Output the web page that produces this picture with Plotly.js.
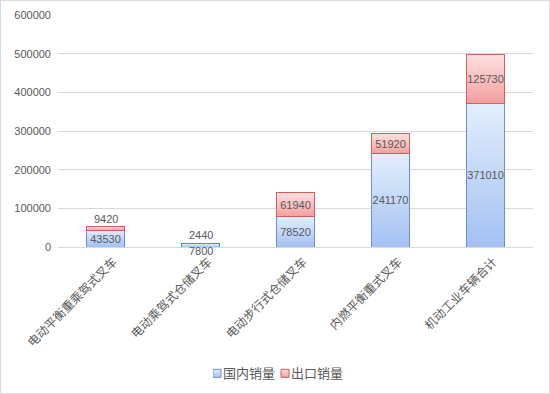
<!DOCTYPE html>
<html><head><meta charset="utf-8">
<script src="https://cdn.plot.ly/plotly-3.0.1.min.js"></script>
<style>
html,body{margin:0;padding:0;background:#fff;}
#c{width:548px;height:392px;border:1px solid #d9d9d9;}
</style></head>
<body><div id="c"></div>
<script>
var categories = ["电动平衡重乘驾式叉车","电动乘驾式仓储叉车","电动步行式仓储叉车","内燃平衡重式叉车","机动工业车辆合计"];
var domestic = [43530, 7800, 78520, 241170, 371010];
var exportv = [9420, 2440, 61940, 51920, 125730];
var seriesNames = ["国内销量","出口销量"];
var yTicks = [0,100000,200000,300000,400000,500000,600000];

var FONT = "Liberation Sans, 'Noto Sans CJK SC', sans-serif";
var gray = "#595959";
var minInside = 20000;

function insideText(arr){ return arr.map(function(v){ return v >= minInside ? String(v) : ""; }); }

var traces = [
  {type:"bar", name:seriesNames[0], x:categories, y:domestic, width:0.4,
   marker:{color:"#c5d8f6", line:{color:"#6a8fcf", width:1}},
   text:insideText(domestic), textposition:"inside", insidetextanchor:"middle", textangle:0,
   textfont:{family:FONT, size:11, color:gray}, constraintext:"none", hoverinfo:"none"},
  {type:"bar", name:seriesNames[1], x:categories, y:exportv, width:0.4,
   marker:{color:"#f8c4c4", line:{color:"#d0605d", width:1}},
   text:insideText(exportv), textposition:"inside", insidetextanchor:"middle", textangle:0,
   textfont:{family:FONT, size:11, color:gray}, constraintext:"none", hoverinfo:"none"}
];

var annotations = [];
categories.forEach(function(c,i){
  if (exportv[i] < minInside) {
    annotations.push({x:c, y:domestic[i]+exportv[i], text:String(exportv[i]), showarrow:false,
      yanchor:"bottom", yshift:0, font:{family:FONT,size:11,color:gray}});
  }
  if (domestic[i] < minInside) {
    annotations.push({x:c, y:0, text:String(domestic[i]), showarrow:false,
      yanchor:"top", yshift:4, font:{family:FONT,size:11,color:gray}});
  }
});

var layout = {
  width:548, height:392,
  margin:{l:57, r:16, t:14, b:146},
  barmode:"stack",
  paper_bgcolor:"#ffffff", plot_bgcolor:"#ffffff",
  font:{family:FONT, color:gray, size:11},
  showlegend:true,
  legend:{orientation:"h", traceorder:"normal", x:0.44, xanchor:"center",
          yref:"container", y:0.05, yanchor:"middle", bgcolor:"rgba(0,0,0,0)",
          font:{family:"'Noto Sans CJK SC', sans-serif", size:13, color:gray},
          itemwidth:30, tracegroupgap:0},
  xaxis:{type:"category", tickangle:-45, showgrid:false, zeroline:false, automargin:false,
         showline:true, linecolor:"#d9d9d9", ticks:"", ticklabelshift:8, ticklabelstandoff:2,
         tickfont:{family:"'Noto Sans CJK SC', sans-serif", size:12, color:gray}},
  yaxis:{range:[0,600000], tickvals:yTicks, tickformat:"d", showgrid:true, gridcolor:"#d9d9d9",
         zeroline:false, showline:false, ticks:"", ticklabelstandoff:6, automargin:false,
         tickfont:{family:FONT, size:11, color:gray}},
  annotations:annotations
};

Plotly.newPlot("c", traces, layout, {displayModeBar:false, staticPlot:true}).then(function(gd){
  try {
    var svg = gd.querySelector("svg.main-svg");
    var ns = "http://www.w3.org/2000/svg";
    var defs = svg.querySelector("defs") || svg.insertBefore(document.createElementNS(ns,"defs"), svg.firstChild);
    function grad(id, top, bot){
      var g = document.createElementNS(ns,"linearGradient");
      g.setAttribute("id",id); g.setAttribute("x1","0"); g.setAttribute("y1","0");
      g.setAttribute("x2","0"); g.setAttribute("y2","1");
      [[0,top],[1,bot]].forEach(function(s){
        var st = document.createElementNS(ns,"stop");
        st.setAttribute("offset", s[0]); st.setAttribute("stop-color", s[1]);
        g.appendChild(st);
      });
      defs.appendChild(g);
    }
    grad("gBlue","#e3eefc","#a3c1f3");
    grad("gRed","#fde0e0","#f29e9e");
    var tr = gd.querySelectorAll(".barlayer .trace");
    var ids = ["gBlue","gRed"];
    tr.forEach(function(t,k){
      t.querySelectorAll("path").forEach(function(p){ p.style.fill = "url(#"+ids[k]+")"; });
    });
  } catch(e) {}
  // compact the legend like the original
  try {
    var leg = gd.querySelector("g.legend");
    var m = /translate\(([-\d.]+),\s*([-\d.]+)\)/.exec(leg.getAttribute("transform"));
    var ly = m ? parseFloat(m[2]) : 0;
    leg.setAttribute("transform", "translate(212," + ly + ")");
    var bg = leg.querySelector("rect.bg"); if (bg) bg.style.display = "none";
    var entries = leg.querySelectorAll("g.traces");
    var cx = 0;
    entries.forEach(function(e, k){
      var mm = /translate\(([-\d.]+),\s*([-\d.]+)\)/.exec(e.getAttribute("transform"));
      var ey = mm ? parseFloat(mm[2]) : 0;
      e.setAttribute("transform", "translate(" + cx + "," + ey + ")");
      e.querySelectorAll(".legendpoints path").forEach(function(p){
        p.setAttribute("d", "M4,4H-4V-4H4Z");
        p.setAttribute("transform", "translate(4,0)");
        p.style.fill = "url(#" + ids[k] + ")";
      });
      var t = e.querySelector("text.legendtext");
      t.setAttribute("x", 10);
      var w = t.getBBox().width;
      cx += 10 + w + 6;
    });
  } catch(e) {}
});
var ids = ["gBlue","gRed"];
</script></body></html>
